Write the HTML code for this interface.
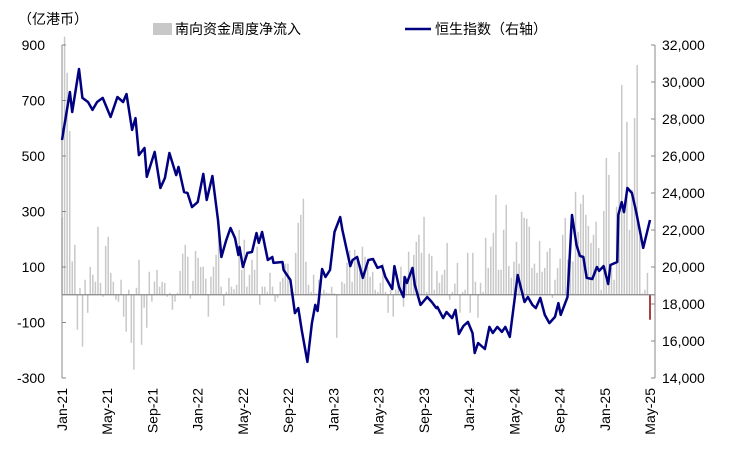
<!DOCTYPE html>
<html><head><meta charset="utf-8"><style>
body{margin:0;background:#fff;}
svg{display:block;font-family:"Liberation Sans","Noto Sans CJK SC",sans-serif;}
</style></head><body>
<svg id="chart" width="730" height="452" viewBox="0 0 730 452">
<text x="18" y="24" font-size="14" fill="#000">（亿港币）</text>
<g>
<rect x="153" y="23" width="19" height="12" fill="#c8c8c8"/>
<text x="175" y="34" font-size="14">南向资金周度净流入</text>
<line x1="405" y1="29" x2="431" y2="29" stroke="#000080" stroke-width="2.5"/>
<text x="435" y="34" font-size="14">恒生指数（右轴）</text>
</g>
<g id="bars"></g>
<g id="axes"></g>
<path id="hsi" fill="none" stroke="#000080" stroke-width="2.5" stroke-linejoin="round"/>
</svg>
<script>
const flows=[277,930,800,590,120,180,-126,25,-187,54,-65,100,72,47,245,43,-7,176,209,79,47,-18,-25,54,-79,-133,18,-173,-270,25,126,-180,-47,-119,83,-25,47,90,29,47,43,-7,7,-54,-25,7,86,148,180,137,-14,50,158,133,100,
101,58,-79,65,101,144,270,29,-40,10,61,29,20,36,234,90,198,29,72,126,90,173,-36,29,29,11,79,29,-25,-11,47,61,112,112,18,10,151,259,288,346,119,36,10,72,5,54,5,18,8,5,29,5,-155,0,47,40,115,160,
47,162,137,90,173,137,101,65,83,18,10,43,112,10,-65,18,-79,18,29,101,-43,65,155,97,144,191,216,151,281,10,148,140,18,86,43,72,90,187,-18,10,40,115,-65,10,18,151,-65,151,47,-83,43,10,205,97,173,223,360,90,
90,234,324,104,61,119,191,112,299,277,274,245,97,112,79,194,83,97,155,169,-11,54,97,130,216,277,126,122,120,371,227,328,360,288,248,187,216,263,169,18,302,493,432,97,54,317,515,756,306,623,234,378,637,828,209,5,18,79,-90];
const lineMonths=[0,0.7,0.9,1.5,1.8,2.3,2.7,3.1,3.6,4.3,4.9,5.4,5.7,6.2,6.5,6.8,7.3,7.5,8.2,8.7,9.1,9.5,10.1,10.3,10.8,11.1,11.5,12.0,12.5,12.8,13.3,13.8,14.1,14.5,14.9,15.3,15.6,15.7,16.0,16.4,16.8,17.2,17.4,17.7,18.2,18.6,18.7,19.5,19.6,20.2,20.6,20.9,21.2,21.7,22.1,22.4,22.6,23.0,23.3,23.7,24.1,24.6,24.8,25.5,25.7,26.1,26.6,27.1,27.5,27.9,28.3,28.6,29.2,29.4,29.8,30.2,30.3,30.5,31.0,31.2,31.7,32.3,32.7,33.1,33.2,33.7,34.0,34.5,34.8,35.1,35.5,35.9,36.3,36.5,36.8,37.4,37.8,38.1,38.5,38.9,39.2,39.6,40.1,40.3,40.7,40.9,41.2,41.6,41.9,42.3,42.7,43.1,43.6,43.9,44.1,44.7,45.1,45.5,45.8,46.1,46.4,46.9,47.3,47.5,47.9,48.3,48.5,49.1,49.2,49.5,49.7,50.0,50.4,50.6,50.8,51.4,52.0];
const hsiValues=[26870,29460,28380,30700,29140,28920,28490,28920,29140,28110,29190,28920,29350,27410,28050,26050,26430,24870,26220,24270,24810,26160,24970,25410,24050,24000,23240,23510,25030,23620,24920,22540,20540,21410,22110,21570,20650,21080,20000,20760,20810,21840,21300,21890,20380,20540,20220,20270,19840,19300,17510,17780,16600,14870,16970,17950,17620,19890,19460,19840,21890,22700,22000,20050,20380,20540,19410,20380,20430,19950,20050,19460,18810,20050,18920,18380,19460,19140,19950,19030,17950,18380,18110,17780,17840,17240,17570,17240,17680,16380,16810,17030,16430,15350,15890,15570,16760,16430,16760,16490,16760,16220,18600,19570,18600,18110,18380,17950,17780,18330,17410,16970,17300,18050,17410,18380,22810,21190,20600,20540,19410,19350,20000,19790,20050,19080,20110,20270,22810,23510,22970,24270,24000,23460,22920,21030,22540,23410];
const leftTicks=[900,700,500,300,100,-100,-300];
const rightTicks=[32000,30000,28000,26000,24000,22000,20000,18000,16000,14000];
const xLabels=["Jan-21","May-21","Sep-21","Jan-22","May-22","Sep-22","Jan-23","May-23","Sep-23","Jan-24","May-24","Sep-24","Jan-25","May-25"];
const xLabelMonths=[0,4,8,12,16,20,24,28,32,36,40,44,48,52];

const X0=62,X1=650,YT=45,YB=378;
const xm=m=>X0+(X1-X0)*m/52;
const yl=v=>YT+(900-v)/1200*(YB-YT);
const yr=v=>YT+(32000-v)/18000*(YB-YT);
const NS="http://www.w3.org/2000/svg";
const mk=(t,a)=>{const e=document.createElementNS(NS,t);for(const k in a)e.setAttribute(k,a[k]);return e;};
const bars=document.getElementById('bars'),axes=document.getElementById('axes');
const n=flows.length, y0=yl(0);
flows.forEach((v,i)=>{
  const x=X0+(X1-X0)*i/(n-1);
  const y=yl(Math.min(v,930));
  const r=mk('rect',{x:x-0.75,y:Math.min(y,y0),width:1.5,height:Math.abs(y-y0),fill:i===n-1?'#8b0000':'#c8c8c8'});
  
  
  bars.appendChild(r);
});
let d='';
lineMonths.forEach((m,i)=>{d+=(i?'L':'M')+xm(m).toFixed(1)+' '+yr(hsiValues[i]).toFixed(1);});
document.getElementById('hsi').setAttribute('d',d);
const zl=mk('line',{x1:X0,y1:y0,x2:655,y2:y0,stroke:'#888','stroke-width':1.2});


axes.appendChild(zl);
const la=mk('line',{x1:X0,y1:YT,x2:X0,y2:YB,stroke:'#888','stroke-width':1});


axes.appendChild(la);
const ra=mk('line',{x1:655,y1:YT,x2:655,y2:YB,stroke:'#888','stroke-width':1});


axes.appendChild(ra);
leftTicks.forEach(v=>{
  const y=yl(v);
  const tk=mk('line',{x1:X0,y1:y,x2:X0+4,y2:y,stroke:'#888'});
  
  
  axes.appendChild(tk);
  const t=mk('text',{x:45,y:y+5,'font-size':14,'text-anchor':'end'});
  t.textContent=v;
  
  
  axes.appendChild(t);
});
rightTicks.forEach(v=>{
  const y=yr(v);
  const tk=mk('line',{x1:651,y1:y,x2:655,y2:y,stroke:'#888'});
  
  
  axes.appendChild(tk);
  const t=mk('text',{x:662,y:y+5,'font-size':14});
  t.textContent=v.toLocaleString('en-US');
  
  
  axes.appendChild(t);
});
xLabels.forEach((s,i)=>{
  const x=xm(xLabelMonths[i]);
  const t=mk('text',{x:0,y:0,'font-size':14,'text-anchor':'end',transform:`translate(${x+5},388) rotate(-90)`});
  t.textContent=s;
  
  
  axes.appendChild(t);
});
</script>
</body></html>
